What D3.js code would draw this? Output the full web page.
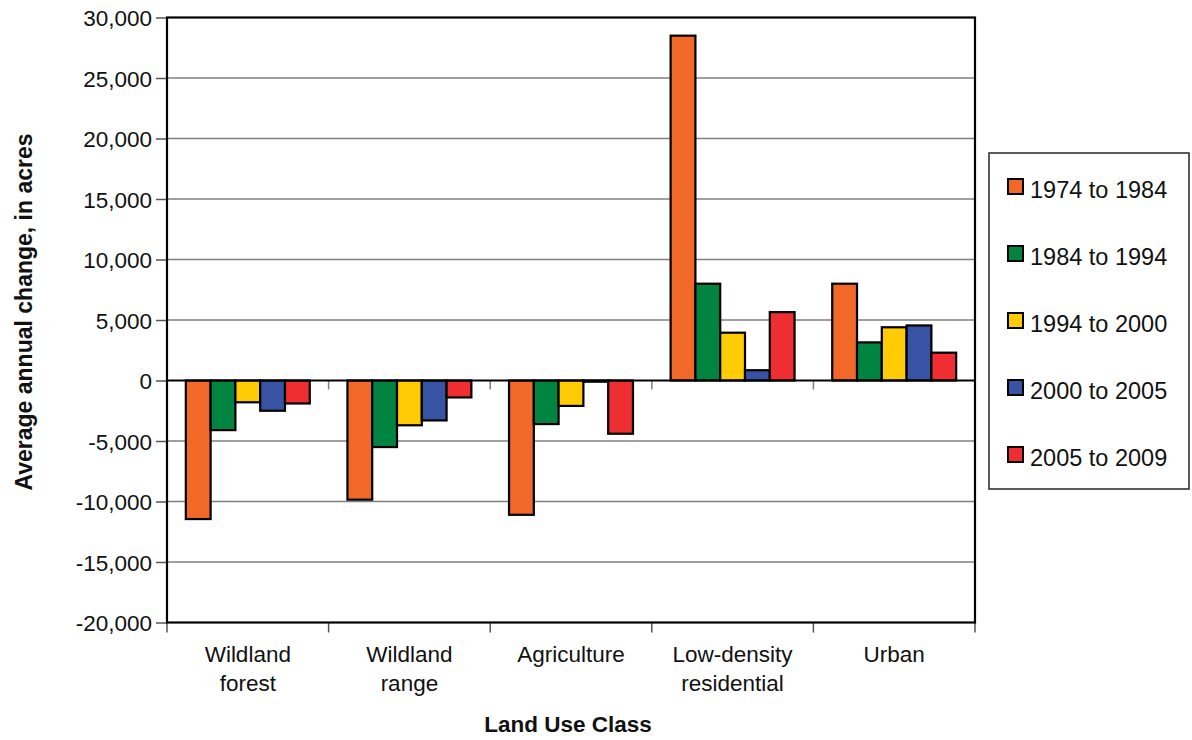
<!DOCTYPE html>
<html>
<head>
<meta charset="utf-8">
<script src="https://cdn.jsdelivr.net/npm/d3@7"></script>
<style>
  html, body { margin: 0; padding: 0; background: #fff; }
  svg { display: block; font-family: "Liberation Sans", Arial, sans-serif; }
</style>
</head>
<body>
<svg id="chart" width="1192" height="740"></svg>
<script>
const categories = [["Wildland", "forest"], ["Wildland", "range"], ["Agriculture"], ["Low-density", "residential"], ["Urban"]];
const seriesNames = ["1974 to 1984", "1984 to 1994", "1994 to 2000", "2000 to 2005", "2005 to 2009"];
const seriesColors = ["#F26829", "#00843F", "#FFCB05", "#3953A4", "#EE2E31"];
const s1974_1984 = [-11450, -9850, -11100, 28500, 8000];
const s1984_1994 = [-4100, -5500, -3600, 8000, 3150];
const s1994_2000 = [-1800, -3700, -2100, 3950, 4400];
const s2000_2005 = [-2500, -3300, -100, 850, 4550];
const s2005_2009 = [-1900, -1400, -4400, 5650, 2300];
const yTicks = [-20000, -15000, -10000, -5000, 0, 5000, 10000, 15000, 20000, 25000, 30000];
const series = [s1974_1984, s1984_1994, s1994_2000, s2000_2005, s2005_2009];

const svg = d3.select("#chart");
const pLeft = 167, pRight = 975, pTop = 17.5, pBottom = 622.5;
const catKeys = categories.map((c, i) => i);

const y = d3.scaleLinear().domain([-20000, 30000]).range([pBottom, pTop]);
const x = d3.scaleBand().domain(catKeys).range([pLeft, pRight]).paddingInner(0.233).paddingOuter(0.1165);
const xs = d3.scaleBand().domain(d3.range(series.length)).range([0, x.bandwidth()]);
const fmt = d3.formatLocale({ decimal: ".", thousands: ",", grouping: [3], currency: ["$", ""], minus: "-" }).format(",");

// gridlines
svg.append("g").selectAll("line").data(yTicks.filter(t => t !== 0 && t !== -20000 && t !== 30000)).join("line")
  .attr("x1", pLeft).attr("x2", pRight)
  .attr("y1", d => y(d)).attr("y2", d => y(d))
  .attr("stroke", "#808080").attr("stroke-width", 1.6);

// y axis with ticks/labels
const yAxis = d3.axisLeft(y).tickValues(yTicks).tickFormat(d => fmt(d)).tickSize(11).tickPadding(4);
const gy = svg.append("g").attr("transform", `translate(${pLeft},0)`).call(yAxis);
gy.select(".domain").remove();
gy.selectAll(".tick line").attr("stroke", "#555").attr("stroke-width", 1.5);
gy.selectAll(".tick text").attr("font-size", 22.5).attr("fill", "#111").attr("font-family", "Liberation Sans, Arial, sans-serif").attr("dy", "0.36em");

// category boundary ticks (bottom and zero line)
const bounds = d3.range(categories.length + 1).map(i => pLeft + i * x.step());
svg.append("g").selectAll("line").data(bounds).join("line")
  .attr("x1", d => d).attr("x2", d => d).attr("y1", pBottom).attr("y2", pBottom + 10)
  .attr("stroke", "#555").attr("stroke-width", 1.5);
svg.append("g").selectAll("line").data(bounds.slice(1, -1)).join("line")
  .attr("x1", d => d).attr("x2", d => d).attr("y1", y(0)).attr("y2", y(0) + 9)
  .attr("stroke", "#808080").attr("stroke-width", 1.5);

// bars
const barData = [];
series.forEach((vals, si) => vals.forEach((v, ci) => barData.push({ si, ci, v })));
svg.append("g").selectAll("rect").data(barData).join("rect")
  .attr("x", d => x(d.ci) + xs(d.si))
  .attr("width", xs.bandwidth())
  .attr("y", d => Math.min(y(d.v), y(0)))
  .attr("height", d => Math.abs(y(d.v) - y(0)))
  .attr("fill", d => seriesColors[d.si])
  .attr("stroke", "#000").attr("stroke-width", 2.2);

// zero line
svg.append("line").attr("x1", pLeft).attr("x2", pRight).attr("y1", y(0)).attr("y2", y(0))
  .attr("stroke", "#000").attr("stroke-width", 1.8);

// frame
svg.append("rect").attr("x", pLeft).attr("y", pTop).attr("width", pRight - pLeft).attr("height", pBottom - pTop)
  .attr("fill", "none").attr("stroke", "#000").attr("stroke-width", 2.2);

// category labels
const catG = svg.append("g");
categories.forEach((lines, i) => {
  const cx = x(i) + x.bandwidth() / 2;
  const t = catG.append("text")
    .attr("x", cx)
    .attr("y", 662)
    .attr("text-anchor", "middle")
    .attr("font-size", 22.5).attr("fill", "#111");
  lines.forEach((ln, j) => t.append("tspan").attr("x", cx).attr("dy", j === 0 ? 0 : 29).text(ln));
});

// axis titles
svg.append("text").attr("x", 568).attr("y", 732).attr("text-anchor", "middle")
  .attr("font-size", 22.5).attr("font-weight", "bold").attr("fill", "#111").text("Land Use Class");
svg.append("text").attr("transform", "translate(32,312) rotate(-90)").attr("text-anchor", "middle")
  .attr("font-size", 23).attr("font-weight", "bold").attr("fill", "#111").text("Average annual change, in acres");

// legend
const lg = svg.append("g");
lg.append("rect").attr("x", 989).attr("y", 153).attr("width", 200).attr("height", 336)
  .attr("fill", "#fff").attr("stroke", "#333").attr("stroke-width", 1.6);
seriesNames.forEach((name, i) => {
  const cy = 187 + i * 67;
  lg.append("rect").attr("x", 1008).attr("y", cy - 8).attr("width", 15).attr("height", 15)
    .attr("fill", seriesColors[i]).attr("stroke", "#000").attr("stroke-width", 2);
  lg.append("text").attr("x", 1030).attr("y", cy + 11).attr("font-size", 23.5).attr("fill", "#111").text(name);
});
</script>
</body>
</html>
